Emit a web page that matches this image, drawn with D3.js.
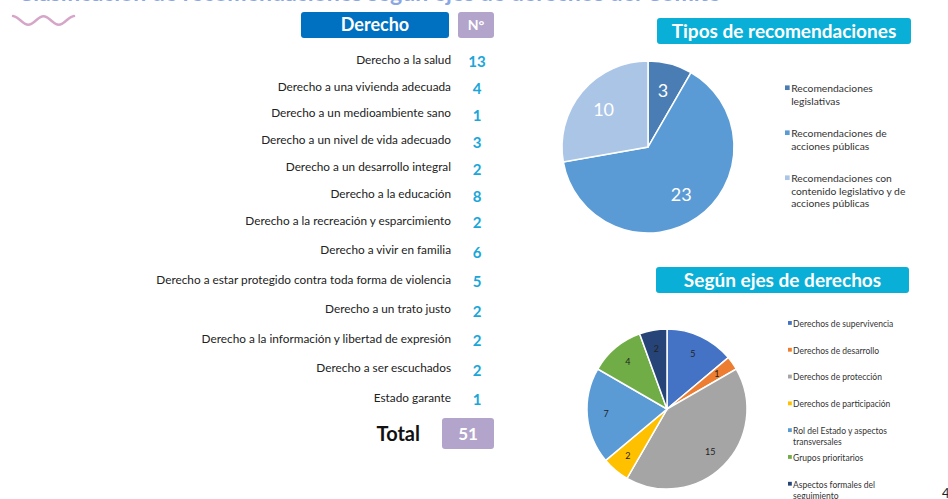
<!DOCTYPE html>
<html lang="es">
<head>
  <meta charset="UTF-8">
  <title>Recomendaciones según derechos</title>
  <script src="https://d3js.org/d3.v7.min.js"></script>
  <style>
    body
    {
      margin: 0;
      padding: 0;
      background-color: #fff;
      font-family: Lato, "Open Sans", sans-serif;
    }

    svg
    {
      display: block;
    }
  </style>
</head>
<body>
  <svg width="948" height="499"></svg>
  <script>
    // tabla de derechos
    const derechos = [
      "Derecho a la salud",
      "Derecho a una vivienda adecuada",
      "Derecho a un medioambiente sano",
      "Derecho a un nivel de vida adecuado",
      "Derecho a un desarrollo integral",
      "Derecho a la educación",
      "Derecho a la recreación y esparcimiento",
      "Derecho a vivir en familia",
      "Derecho a estar protegido contra toda forma de violencia",
      "Derecho a un trato justo",
      "Derecho a la información  y libertad de expresión",
      "Derecho a ser escuchados",
      "Estado garante"
    ];
    const nRecomendaciones = [13, 4, 1, 3, 2, 8, 2, 6, 5, 2, 2, 2, 1];

    // tipos de recomendaciones
    const tipos = [
      "Recomendaciones legislativas",
      "Recomendaciones de acciones públicas",
      "Recomendaciones con contenido legislativo y de acciones públicas"
    ];
    const tiposValores = [3, 23, 10];
    const tiposColores = ["#4a7db4", "#5b9bd5", "#abc5e6"];

    // ejes de derechos
    const ejes = [
      "Derechos de supervivencia",
      "Derechos de desarrollo",
      "Derechos de protección",
      "Derechos de participación",
      "Rol del Estado y aspectos transversales",
      "Grupos prioritarios",
      "Aspectos formales del seguimiento"
    ];
    const ejesValores = [5, 1, 15, 2, 7, 4, 2];
    const ejesColores = ["#4472c4", "#ed7d31", "#a5a5a5", "#ffc000", "#5b9bd5", "#70ad47", "#264478"];

    const width = 948;
    const height = 499;
    const svg = d3.select("svg").attr("viewBox", [0, 0, width, height]);

    // titulo cortado arriba
    svg.append("text")
      .attr("x", 18)
      .attr("y", 1)
      .attr("fill", "#8aa6e4")
      .attr("font-size", 23)
      .attr("font-weight", "bold")
      .text("Clasificación de recomendaciones según ejes de derechos del Comité");

    // onda decorativa
    const wave = d3.line().curve(d3.curveBasis);
    const wx = d3.scaleLinear().domain([0, 1]).range([13, 74]);
    const wavePts = d3.range(0, 1.001, 0.05).map(t => [wx(t), 20.5 - 4.5 * Math.sin(t * Math.PI * 4 + Math.PI / 2)]);
    svg.append("path")
      .attr("d", wave(wavePts))
      .attr("fill", "none")
      .attr("stroke", "#d6a6c8")
      .attr("stroke-width", 2.5)
      .attr("stroke-linecap", "round");

    function header(x, y, w, h, fill, label, size) {
      svg.append("rect")
        .attr("x", x).attr("y", y)
        .attr("width", w).attr("height", h)
        .attr("rx", 3)
        .attr("fill", fill);
      svg.append("text")
        .attr("x", x + w / 2)
        .attr("y", y + h / 2)
        .attr("dy", "0.36em")
        .attr("text-anchor", "middle")
        .attr("fill", "#fff")
        .attr("font-weight", "bold")
        .attr("font-size", size)
        .text(label);
    }

    header(301, 12, 148, 26, "#0070c0", "Derecho", 18);
    header(458, 12, 36, 26, "#b3a4cb", "N°", 14);

    // filas de la tabla
    const rowY = d3.scaleLinear().domain([0, 6, 12]).range([60, 221, 398]);

    const rows = svg.append("g")
      .selectAll("g")
      .data(derechos)
      .join("g")
      .attr("transform", (d, i) => `translate(0,${rowY(i)})`);

    rows.append("text")
      .attr("x", 451)
      .attr("dy", "0.32em")
      .attr("text-anchor", "end")
      .attr("fill", "#222")
      .attr("font-size", 11.8)
      .text(d => d);

    rows.append("text")
      .attr("x", 477)
      .attr("y", 2)
      .attr("dy", "0.36em")
      .attr("text-anchor", "middle")
      .attr("fill", "#1aa6d9")
      .attr("font-weight", "bold")
      .attr("font-size", 15)
      .text((d, i) => nRecomendaciones[i]);

    svg.append("text")
      .attr("x", 420)
      .attr("y", 434)
      .attr("dy", "0.36em")
      .attr("text-anchor", "end")
      .attr("fill", "#111")
      .attr("font-weight", "bold")
      .attr("font-size", 20)
      .text("Total");

    header(442, 418, 52, 31, "#b3a4cb", d3.sum(nRecomendaciones), 17);

    // pie helper
    function drawPie(cx, cy, r, values, colors, labelR, labelColor, labelSize) {
      const pie = d3.pie().sort(null).value(d => d);
      const arc = d3.arc().innerRadius(0).outerRadius(r);
      const labelArc = d3.arc().innerRadius(labelR).outerRadius(labelR);
      const g = svg.append("g").attr("transform", `translate(${cx},${cy})`);
      const arcs = pie(values);

      g.selectAll("path")
        .data(arcs)
        .join("path")
        .attr("d", arc)
        .attr("fill", (d, i) => colors[i])
        .attr("stroke", "#fff")
        .attr("stroke-width", 1.5);

      g.selectAll("text")
        .data(arcs)
        .join("text")
        .attr("transform", d => `translate(${labelArc.centroid(d)})`)
        .attr("dy", "0.35em")
        .attr("text-anchor", "middle")
        .attr("fill", labelColor)
        .attr("font-size", labelSize)
        .text(d => d.data);
    }

    function wrap(text, maxChars) {
      const words = text.split(" ");
      const lines = [];
      let line = "";
      words.forEach(w => {
        const next = line ? line + " " + w : w;
        if (next.length > maxChars && line) {
          lines.push(line);
          line = w;
        } else {
          line = next;
        }
      });
      lines.push(line);
      return lines;
    }

    function drawLegend(x, y0, step, labels, colors, size, lineH, maxChars) {
      const g = svg.append("g");
      const items = g.selectAll("g")
        .data(labels)
        .join("g")
        .attr("transform", (d, i) => `translate(${x},${y0 + i * step})`);

      items.append("rect")
        .attr("x", 0)
        .attr("y", -size * 0.35)
        .attr("width", size * 0.45)
        .attr("height", size * 0.45)
        .attr("fill", (d, i) => colors[i]);

      items.append("text")
        .attr("fill", "#333")
        .attr("font-size", size)
        .selectAll("tspan")
        .data(d => wrap(d, maxChars))
        .join("tspan")
        .attr("x", size * 0.6)
        .attr("y", (d, i) => i * lineH)
        .attr("dy", "0.32em")
        .text(d => d);
    }

    // Tipos de recomendaciones
    header(657, 18, 254, 26, "#0aafd7", "Tipos de recomendaciones", 19);
    drawPie(648, 147, 86, tiposValores, tiposColores, 58, "#fff", 18);
    drawLegend(785, 89, 45, tipos, tiposColores, 10.3, 12.5, 26);

    // Según ejes de derechos
    header(656, 267, 253, 26, "#0aafd7", "Según ejes de derechos", 19);
    drawPie(667, 409, 80, ejesValores, ejesColores, 61, "#222", 9);
    drawLegend(788, 324, 26.8, ejes, ejesColores, 8.5, 11.5, 26);

    // numero de pagina
    svg.append("text")
      .attr("x", 942)
      .attr("y", 498)
      .attr("fill", "#222")
      .attr("font-size", 13)
      .text("4");
  </script>
</body>
</html>
